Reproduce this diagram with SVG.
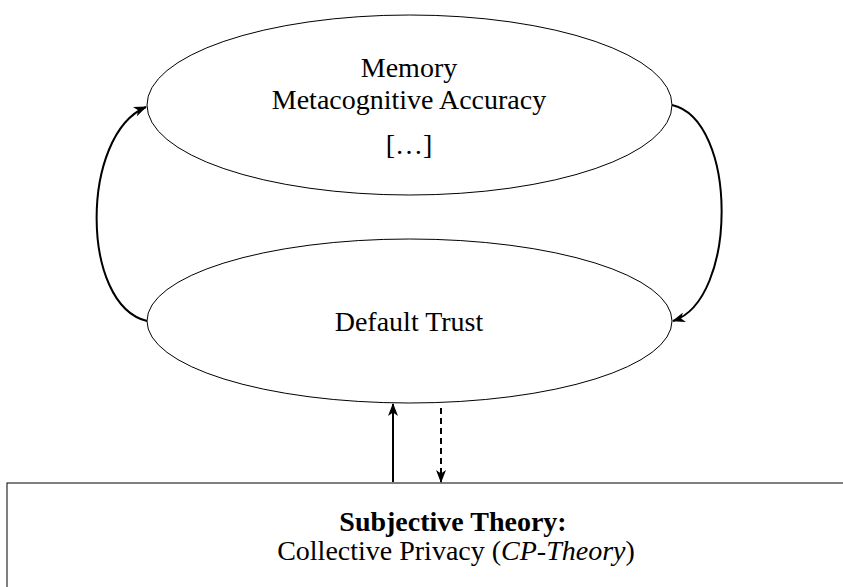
<svg xmlns="http://www.w3.org/2000/svg" width="843" height="587" viewBox="0 0 843 587">
<style>
.node{fill:#fff;stroke:#000;stroke-width:1}
.t{font-family:"Liberation Serif","Times New Roman",serif;font-size:28px;fill:#000;text-anchor:middle}
.c{fill:none;stroke:#000;stroke-width:2}
</style>
<defs>
<marker id="ah" viewBox="0 0 13 10" refX="12" refY="5" markerWidth="13" markerHeight="10" markerUnits="userSpaceOnUse" orient="auto">
<path d="M0,0 L13,5 L0,10 L3.5,5 Z" fill="#000"/>
</marker>
</defs>
<rect width="843" height="587" fill="#fff"/>
<g id="top-node">
<ellipse class="node" cx="409.5" cy="105" rx="262.5" ry="90"/>
<text class="t" x="409" y="77">Memory</text>
<text class="t" x="409" y="109">Metacognitive Accuracy</text>
<text class="t" x="409" y="154">[…]</text>
</g>
<g id="default-trust">
<ellipse class="node" cx="409.5" cy="321" rx="262.5" ry="82"/>
<text class="t" x="409" y="331">Default Trust</text>
</g>
<g id="subjective-theory">
<rect class="node" x="7" y="483" width="896" height="130"/>
<text class="t" x="453" y="531" font-weight="bold">Subjective Theory:</text>
<text class="t" x="456" y="560">Collective Privacy (<tspan font-style="italic">CP-Theory</tspan>)</text>
</g>
<g id="connectors">
<path class="c" d="M147,321 C80,305 80,135 146,107" marker-end="url(#ah)"/>
<path class="c" d="M672,105 C738,120 738,300 673,321" marker-end="url(#ah)"/>
<line class="c" x1="393" y1="482" x2="393" y2="404" marker-end="url(#ah)"/>
<line class="c" x1="441" y1="408" x2="441" y2="482" stroke-dasharray="6,4" marker-end="url(#ah)"/>
</g>
</svg>
